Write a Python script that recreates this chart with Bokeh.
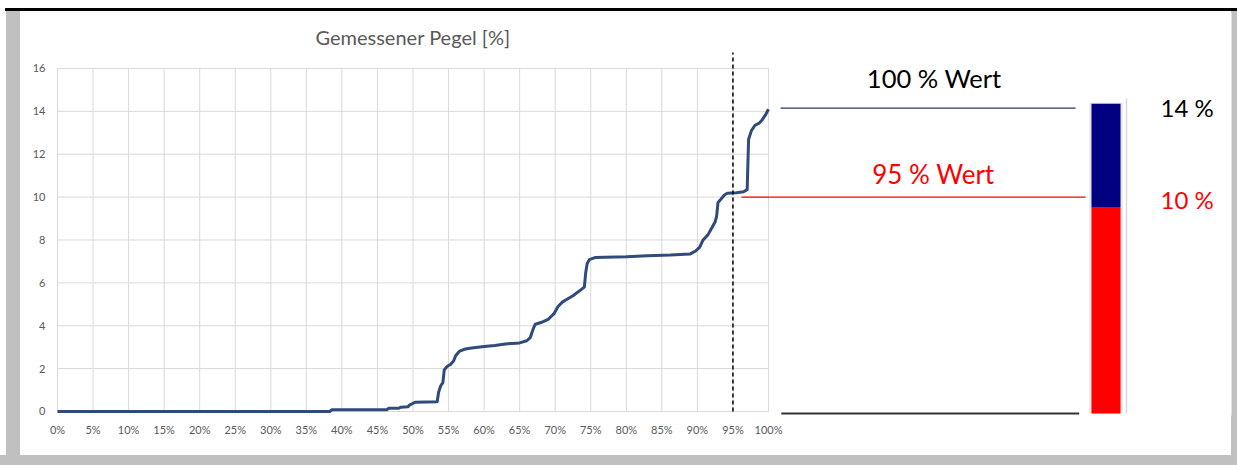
from bokeh.plotting import figure
from bokeh.models import Range1d, FixedTicker, NumeralTickFormatter, Label
from bokeh.core.properties import value
from bokeh.embed import file_html
from bokeh.resources import INLINE

# ---------------- data ----------------
anteil = [0.0, 0.383, 0.386, 0.463, 0.466, 0.48, 0.483, 0.493, 0.495, 0.50,
          0.503, 0.534, 0.536, 0.539, 0.542, 0.544, 0.548, 0.553, 0.557, 0.560,
          0.565, 0.572, 0.58, 0.60, 0.615, 0.63, 0.65, 0.66, 0.665, 0.669,
          0.672, 0.68, 0.69, 0.698, 0.704, 0.71, 0.716, 0.725, 0.735, 0.741,
          0.743, 0.745, 0.748, 0.756, 0.80, 0.83, 0.862, 0.89, 0.898, 0.903,
          0.908, 0.915, 0.92, 0.925, 0.927, 0.929, 0.933, 0.938, 0.942, 0.955,
          0.965, 0.970, 0.972, 0.976, 0.981, 0.987, 0.991, 0.996, 1.0]
pegel = [0.0, 0.0, 0.08, 0.08, 0.15, 0.15, 0.2, 0.22, 0.3, 0.38,
         0.43, 0.45, 0.9, 1.2, 1.35, 1.95, 2.1, 2.2, 2.35, 2.6,
         2.8, 2.9, 2.95, 3.03, 3.08, 3.15, 3.2, 3.3, 3.45, 3.85,
         4.07, 4.15, 4.3, 4.55, 4.9, 5.1, 5.22, 5.4, 5.65, 5.8,
         6.5, 6.9, 7.08, 7.18, 7.22, 7.27, 7.3, 7.35, 7.5, 7.65,
         8.0, 8.25, 8.55, 8.85, 9.1, 9.75, 9.9, 10.1, 10.18, 10.2,
         10.25, 10.35, 12.7, 13.1, 13.35, 13.45, 13.6, 13.85, 14.1]

x_ticks = [round(i * 0.05, 2) for i in range(21)]
y_ticks = [0, 2, 4, 6, 8, 10, 12, 14, 16]

quantil_95 = 0.95
wert_100 = 14.15
wert_95 = 10.0
label_100 = "100 % Wert"
label_95 = "95 % Wert"
text_100 = "14 %"
text_95 = "10 %"
bar_values = [10, 5]          # red part, navy part of the level bar
bar_colors = ["#ff0000", "#000080"]
title_text = "Gemessener Pegel [%]"

# ---------------- figure ----------------
W, H = 1237, 465
p = figure(width=W, height=H, output_backend="svg", toolbar_location=None,
           title=None,
           x_range=Range1d(-0.00422, 1.6512), y_range=Range1d(-0.1866, 18.61),
           min_border_left=54, min_border_right=6, min_border_top=12,
           min_border_bottom=50)
p.extra_y_ranges = {"bar": Range1d(-0.0969, 19.42)}
p.background_fill_color = "white"
p.border_fill_color = "white"
p.border_fill_alpha = 0
p.outline_line_color = None
p.xgrid.visible = False
p.ygrid.visible = False

# outer frame of the picture (CSS background behind the transparent border)
frame_css = ("linear-gradient(#000,#000) 5px 8px / 1232px 3px no-repeat, "
             "linear-gradient(#c0c0c0,#c0c0c0) 6px 11px / 14px 454px no-repeat, "
             "linear-gradient(#c0c0c0,#c0c0c0) 0px 455px / 1237px 10px no-repeat, "
             "linear-gradient(#c0c0c0,#c0c0c0) 1231px 11px / 6px 454px no-repeat, "
             "#ffffff")
p.styles = {"background": frame_css}

FONT = "Lato"
GRAY = "#595959"

for ax in (p.xaxis[0], p.yaxis[0]):
    ax.axis_line_color = None
    ax.major_tick_line_color = None
    ax.minor_tick_line_color = None
    ax.major_tick_out = 0
    ax.major_tick_in = 0
    ax.minor_tick_out = 0
    ax.major_label_text_font = FONT
    ax.major_label_text_font_size = "11px"
    ax.major_label_text_color = GRAY

p.xaxis[0].ticker = FixedTicker(ticks=x_ticks)
p.xaxis[0].formatter = NumeralTickFormatter(format="0%")
p.xaxis[0].major_label_standoff = 7
p.yaxis[0].ticker = FixedTicker(ticks=y_ticks)
p.yaxis[0].major_label_standoff = 9

# gridlines restricted to the chart area
p.segment(x0=[x_ticks[0]] * len(y_ticks), x1=[x_ticks[-1]] * len(y_ticks),
          y0=y_ticks, y1=y_ticks, line_color="#d9d9d9", line_width=1)
p.segment(x0=x_ticks, x1=x_ticks, y0=[y_ticks[0]] * len(x_ticks),
          y1=[y_ticks[-1]] * len(x_ticks), line_color="#d9d9d9", line_width=1)

# curve
p.line(anteil, pegel, line_color="#2F4B7C", line_width=3, line_join="round")

# 95 % marker
p.segment(x0=[quantil_95], x1=[quantil_95], y0=[0], y1=[16.75],
          line_color="black", line_width=1.5, line_dash="4 3")

# value lines
p.segment(x0=[1.017], x1=[1.432], y0=[wert_100], y1=[wert_100],
          line_color="#1F3864", line_width=1.3)
p.segment(x0=[0.962], x1=[1.446], y0=[wert_95], y1=[wert_95],
          line_color="#ff0000", line_width=1.3)
p.segment(x0=[1.018], x1=[1.437], y0=[0], y1=[0], y_range_name="bar",
          line_color="#333333", line_width=2)

# level bar
bottoms = [0, bar_values[0]]
tops = [bar_values[0], bar_values[0] + bar_values[1]]
p.vbar(x=[1.4747], width=0.0465, bottom=[0], top=[tops[-1] + 0.05],
       y_range_name="bar", fill_color="#e3e3e3", line_color=None)
p.vbar(x=[1.4747] * 2, width=0.0408, bottom=bottoms, top=tops,
       y_range_name="bar", fill_color=bar_colors, line_color=None)
p.segment(x0=[1.5035], x1=[1.5035], y0=[0], y1=[15.26], y_range_name="bar",
          line_color="#d9d9d9", line_width=1.5)

# texts
p.text(x=[1.2331], y=[15.57], text=[label_100], text_font=value(FONT),
       text_font_size="25.5px", text_color="black", text_align="center",
       text_baseline="middle")
p.text(x=[1.2319], y=[11.09], text=[label_95], text_font=value(FONT),
       text_font_size="26px", text_color="#ff0000", text_align="center",
       text_baseline="middle")
p.text(x=[1.5515], y=[14.19], text=[text_100], text_font=value(FONT),
       text_font_size="24px", text_color="black", text_align="left",
       text_baseline="middle")
p.text(x=[1.5515], y=[9.89], text=[text_95], text_font=value(FONT),
       text_font_size="24px", text_color="#ff0000", text_align="left",
       text_baseline="middle")

p.add_layout(Label(x=0.5, y=17.49, text=title_text, text_font=FONT,
                   text_font_size="20px", text_color=GRAY,
                   text_align="center", text_baseline="middle"))

open("out.html", "w").write(file_html(p, INLINE))
